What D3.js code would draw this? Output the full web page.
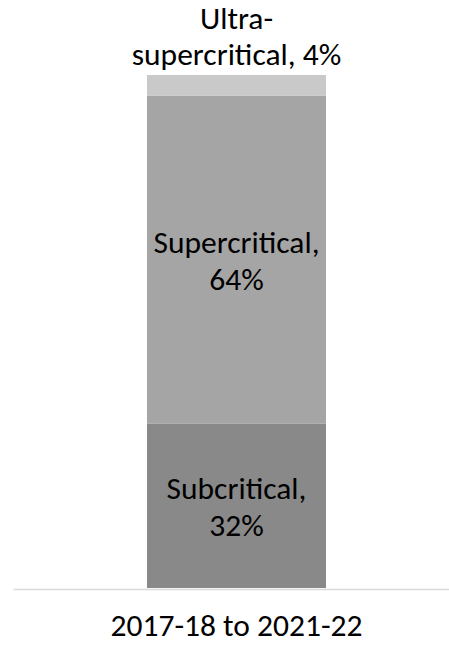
<!DOCTYPE html>
<html><head><meta charset="utf-8">
<script src="https://cdn.jsdelivr.net/npm/d3@7"></script>
<style>html,body{margin:0;padding:0;background:#fff;}svg{display:block;}</style>
</head><body>
<script>
const categories = ["2017-18 to 2021-22"];
const seriesNames = ["Subcritical", "Supercritical", "Ultra-supercritical"];
const seriesValues = [32, 64, 4];
const seriesLabels = [["Subcritical,", "32%"], ["Supercritical,", "64%"], ["Ultra-", "supercritical, 4%"]];
const colors = ["#898989", "#a5a5a5", "#c9c9c9"];

(function () {
const W = 449, H = 645;
const FONT = "Carlito, Calibri, Lato, sans-serif";
const FS = 31.5;
const svg = d3.select("body").append("svg").attr("width", W).attr("height", H);

const x = d3.scaleBand().domain(categories).range([13, 460]).padding(0.428);
const y = d3.scaleLinear().domain([0, 100]).range([588, 75]);

let cum = 0;
const stacked = seriesValues.map((v, i) => { const s = {y0: cum, y1: cum + v, i}; cum += v; return s; });

svg.selectAll("rect.seg").data(stacked).join("rect").attr("class", "seg")
  .attr("x", x(categories[0])).attr("width", x.bandwidth())
  .attr("y", d => y(d.y1)).attr("height", d => y(d.y0) - y(d.y1))
  .attr("fill", d => colors[d.i]);

const axis = svg.append("g").attr("transform", `translate(0,${y(0) + 1})`)
  .call(d3.axisBottom(x).tickSize(0).tickPadding(25));
axis.select(".domain").attr("stroke", "#d9d9d9").attr("stroke-width", 1.5);
axis.selectAll("text").attr("font-family", FONT).attr("font-size", FS).attr("fill", "#000");

const cx = x(categories[0]) + x.bandwidth() / 2;
stacked.slice(0, 2).forEach(d => {
  const mid = (y(d.y0) + y(d.y1)) / 2;
  const t = svg.append("text").attr("text-anchor", "middle").attr("font-family", FONT)
    .attr("font-size", FS).attr("fill", "#000");
  seriesLabels[d.i].forEach((line, k) => {
    t.append("tspan").attr("x", cx).attr("y", mid - 7 + k * 37.5).text(line);
  });
});
const topSeg = stacked[2];
const tt = svg.append("text").attr("text-anchor", "middle").attr("font-family", FONT)
  .attr("font-size", FS).attr("fill", "#000");
seriesLabels[2].forEach((line, k) => {
  tt.append("tspan").attr("x", cx).attr("y", y(topSeg.y1) - 46 + k * 36).text(line);
});
})();
</script>
</body></html>
